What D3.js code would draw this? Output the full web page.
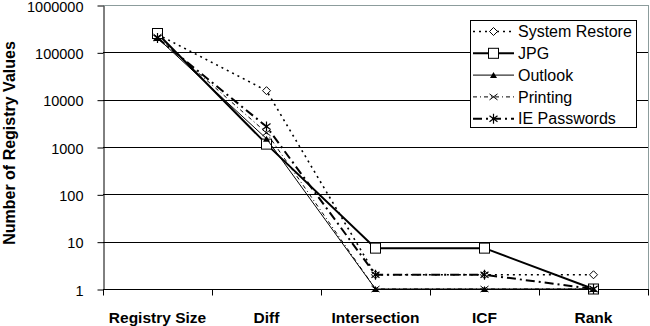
<!DOCTYPE html>
<html><head><meta charset="utf-8">
<script src="https://cdn.jsdelivr.net/npm/d3@7"></script>
<style>
body{margin:0;background:#fff;}
text{font-family:"Liberation Sans",Arial,sans-serif;}
</style></head>
<body><svg id="c" width="650" height="326"></svg>
<script>
const categories = ["Registry Size","Diff","Intersection","ICF","Rank"];
const yTicks = [1,10,100,1000,10000,100000,1000000];
const systemRestore = [240000, 15500, 2, 2, 2];
const jpg = [250000, 1150, 7.3, 7.3, 1];
const outlook = [200000, 1500, 1, 1, 1];
const printing = [210000, 2000, 1, 1, 1];
const iePasswords = [200000, 2700, 2, 2, 1];

const seriesList = [
  {name:"System Restore", values:systemRestore, dash:"2,4", width:1.6, marker:"diamond"},
  {name:"JPG", values:jpg, dash:null, width:2, marker:"square"},
  {name:"Outlook", values:outlook, dash:null, width:1, marker:"triangle"},
  {name:"Printing", values:printing, dash:"4,3,1,3", width:1, marker:"x"},
  {name:"IE Passwords", values:iePasswords, dash:"9,4,2,4", width:2, marker:"star"}
];

const svg = d3.select("#c");
const L = 103, R = 648, T = 5, B = 289;
const x = d3.scaleBand().domain(categories).range([L, R]);
const y = d3.scaleLog().domain([1, 1000000]).range([B, T]);

svg.append("g").selectAll("line").data(yTicks.slice(1,-1)).join("line")
  .attr("x1", L).attr("x2", R).attr("y1", d=>Math.round(y(d))+0.5).attr("y2", d=>Math.round(y(d))+0.5)
  .attr("stroke", "#000").attr("stroke-width", 1);
svg.append("line").attr("x1",L).attr("x2",R).attr("y1",T+0.5).attr("y2",T+0.5).attr("stroke","#8c9c9c");
svg.append("line").attr("x1",R+0.5).attr("x2",R+0.5).attr("y1",T).attr("y2",B).attr("stroke","#8c9c9c");

const yAxis = d3.axisLeft(y).tickValues(yTicks).tickFormat(d3.format("d")).tickSize(6).tickSizeOuter(0);
const gy = svg.append("g").attr("transform", `translate(${L+0.5},0.5)`).call(yAxis);
gy.select(".domain").attr("stroke","#000");
gy.selectAll(".tick line").attr("stroke","#000");
gy.selectAll("text").attr("font-size", 14.5).attr("fill","#000").attr("x", -20).attr("dy","0.4em");

const gx = svg.append("g").attr("transform", `translate(0,${B+0.5})`);
gx.append("line").attr("x1", L).attr("x2", R+1).attr("stroke", "#000");
const bounds = categories.map(c=>x(c)).concat([R]);
gx.selectAll("line.t").data(bounds).join("line").attr("class","t")
  .attr("x1", d=>Math.round(d)+0.5).attr("x2", d=>Math.round(d)+0.5).attr("y1",0).attr("y2",6).attr("stroke","#000");
gx.selectAll("text").data(categories).join("text")
  .attr("x", d=>x(d)+x.bandwidth()/2).attr("y", 33.5).attr("text-anchor","middle")
  .attr("font-size", 15.5).attr("font-weight","bold").text(d=>d);

svg.append("text").attr("transform", `translate(15,${(T+B)/2-4}) rotate(-90)`)
  .attr("text-anchor","middle").attr("font-size",16).attr("font-weight","bold").text("Number of Registry Values");

function drawMarker(g, type, cx, cy) {
  if (type==="diamond") {
    g.append("path").attr("d", `M${cx},${cy-4}L${cx+4},${cy}L${cx},${cy+4}L${cx-4},${cy}Z`).attr("fill","#fff").attr("stroke","#000").attr("stroke-width",1);
  } else if (type==="square") {
    g.append("rect").attr("x",cx-5).attr("y",cy-5).attr("width",10).attr("height",10).attr("fill","#fff").attr("stroke","#000").attr("stroke-width",1);
  } else if (type==="triangle") {
    g.append("path").attr("d", `M${cx},${cy-3}L${cx+3.5},${cy+3}L${cx-3.5},${cy+3}Z`).attr("fill","#000");
  } else if (type==="x") {
    g.append("path").attr("d", `M${cx-4},${cy-3}L${cx+4},${cy+3}M${cx-4},${cy+3}L${cx+4},${cy-3}`).attr("stroke","#000").attr("stroke-width",1);
  } else if (type==="star") {
    g.append("path").attr("d", `M${cx-4},${cy-3}L${cx+4},${cy+3}M${cx-4},${cy+3}L${cx+4},${cy-3}M${cx},${cy-5}L${cx},${cy+5}`).attr("stroke","#000").attr("stroke-width",1.2);
  }
}

const line = d3.line().x((d,i)=>x(categories[i])+x.bandwidth()/2).y(d=>y(d));
seriesList.forEach(s=>{
  const g = svg.append("g");
  g.append("path").attr("d", line(s.values)).attr("fill","none").attr("stroke","#000")
    .attr("stroke-width", s.width).attr("stroke-dasharray", s.dash);
  s.values.forEach((v,i)=>drawMarker(g, s.marker, x(categories[i])+x.bandwidth()/2, y(v)));
});

const lg = svg.append("g");
lg.append("rect").attr("x",470.5).attr("y",20.5).attr("width",166).attr("height",107).attr("fill","#fff").attr("stroke","#000");
seriesList.forEach((s,i)=>{
  const ly = 31.5 + i*21.8;
  const row = lg.append("g");
  row.append("line").attr("x1",473).attr("x2",514).attr("y1",ly).attr("y2",ly)
    .attr("stroke","#000").attr("stroke-width",s.width).attr("stroke-dasharray",s.dash);
  drawMarker(row, s.marker, 493.5, ly);
  row.append("text").attr("x",518).attr("y",ly).attr("dy","0.36em").attr("font-size",16).text(s.name);
});
</script></body></html>
